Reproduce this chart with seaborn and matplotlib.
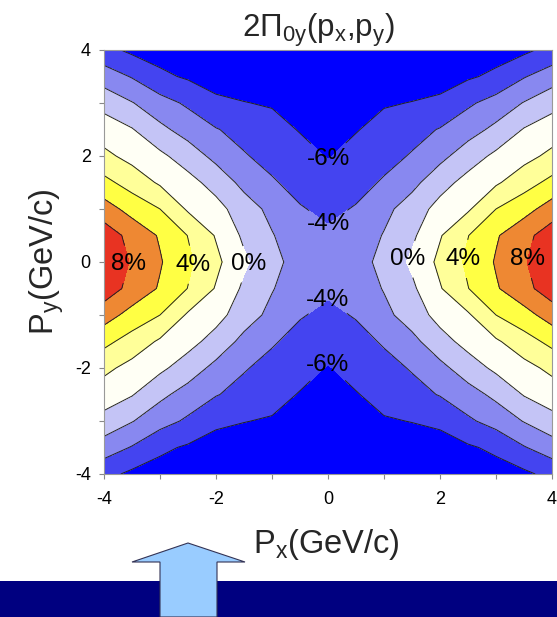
import numpy as np
import matplotlib
matplotlib.use("Agg")
import matplotlib.pyplot as plt
from matplotlib.patches import Rectangle, Polygon
import seaborn as sns

# -------- data: one quadrant (px <= 0, py >= 0), in % --------
px_half = [-4.0, -3.5, -3.0, -2.5, -2.0, -1.5, -1.0, -0.5, 0.0]
py_half = [0.0, 0.5, 1.0, 1.5, 2.0, 2.5, 3.0, 3.5, 4.0]
z_quadrant = [
    [9.4, 7.83, 6.17, 4.36, 2.46, 0.35, -1.42, -2.8, -3.3],    # py = 0.0
    [9.1, 7.37, 5.8, 3.95, 1.85, -0.36, -1.88, -3.2, -3.65],   # py = 0.5
    [6.9, 5.28, 4.0, 1.74, 0.7, -1.06, -2.53, -3.84, -4.49],   # py = 1.0
    [4.55, 3.16, 1.73, 0.69, -0.77, -2.56, -3.78, -4.7, -5.3], # py = 1.5
    [2.47, 1.38, 0.42, -0.98, -2.55, -3.84, -4.66, -5.4, -6.1],# py = 2.0
    [0.99, 0.12, -1.53, -2.79, -3.89, -4.67, -5.41, -6.1, -6.6],
    [-0.65, -1.9, -3.24, -4.32, -5.6, -5.95, -6.15, -6.8, -7.0],
    [-2.98, -4.13, -5.6, -6.25, -6.8, -6.8, -7.0, -7.2, -7.3],
    [-5.4, -6.4, -6.8, -6.9, -7.1, -7.3, -7.4, -7.5, -7.5],    # py = 4.0
]
contour_levels = [-6, -4, -2, 0, 2, 4, 6, 8]
label_levels = [-6, -4, 0, 4, 8]
plain_levels = [-2, 2, 6]
band_colors = ["#0000FF", "#4444F0", "#8888F0", "#C4C4F6", "#FFFFF5",
               "#FFFF99", "#FFFF44", "#EE8833", "#E83322"]

# -------- mirror the quadrant to the full plane (map is symmetric) --------
px = np.concatenate([px_half, [-v for v in px_half[-2::-1]]])
py = np.concatenate([[-v for v in py_half[:0:-1]], py_half])
q = np.array(z_quadrant)
right = np.hstack([q, q[:, -2::-1]])
z = np.vstack([right[:0:-1], right])

# -------- style --------
sns.set_theme(style="ticks")
plt.rcParams["font.family"] = ["Liberation Sans", "DejaVu Sans"]
plt.rcParams["mathtext.default"] = "regular"
plt.rcParams["axes.unicode_minus"] = False

W, H = 557, 617
fig = plt.figure(figsize=(W / 100, H / 100), dpi=100)
ax = fig.add_axes([104 / W, 1 - 474 / H, 448 / W, 424 / H])

ax.contourf(px, py, z, levels=contour_levels, colors=band_colors, extend="both")
ax.contour(px, py, z, levels=plain_levels, colors="#222222",
           linewidths=0.7, linestyles="solid")
cs = ax.contour(px, py, z, levels=label_levels, colors="#222222",
                linewidths=0.7, linestyles="solid")

label_spots = [(0, 1.95), (0, -1.95), (0, 0.72), (0, -0.72),
               (-1.4, -0.05), (1.42, 0.05), (-2.42, -0.05), (2.45, 0.05),
               (-3.55, -0.05), (3.58, 0.05)]
texts = ax.clabel(cs, manual=label_spots, inline=True, inline_spacing=2,
                  fmt=lambda v: f"{v:.0f}%", fontsize=17.5, colors="black")
for t in texts:
    t.set_rotation(0)

ax.set_xlim(-4, 4)
ax.set_ylim(-4, 4)
ax.set_xticks([-4, -2, 0, 2, 4])
ax.set_yticks([-4, -2, 0, 2, 4])
ax.set_xticks([-3, -1, 1, 3], minor=True)
ax.set_yticks([-3, -1, 1, 3], minor=True)
ax.tick_params(which="both", direction="out", length=3.6, width=0.8,
               color="#888888", labelsize=13, labelcolor="black")
ax.tick_params(axis="x", which="both", pad=9)
ax.tick_params(axis="y", which="both", pad=6)
for s in ax.spines.values():
    s.set_color("#999999")
    s.set_linewidth(0.8)

ax.set_xlabel("P$_x$(GeV/c)", fontsize=23.5, va="top")
ax.xaxis.set_label_coords(0.496, -0.125)
ax.set_ylabel("P$_y$(GeV/c)", fontsize=23.5)
ax.yaxis.set_label_coords(-0.085, 0.5)

fig.text(318 / W, 1 - 37 / H, r"2$\Pi_{0y}$(p$_x$,p$_y$)", ha="center",
         va="baseline", fontsize=22.5)

# -------- slide decoration at the bottom --------
fig.patches.append(Rectangle((0, 0), 1, 36 / H, transform=fig.transFigure,
                             facecolor="#000080", edgecolor="none"))
arrow_px = [(188, 543), (245, 562), (217, 562), (217, 617), (160, 617),
            (160, 562), (132, 562)]
fig.patches.append(Polygon([(x / W, 1 - y / H) for x, y in arrow_px],
                           closed=True, transform=fig.transFigure,
                           facecolor="#99CCFF", edgecolor="#333355", lw=0.8))

fig.savefig("out.png", dpi=100)
